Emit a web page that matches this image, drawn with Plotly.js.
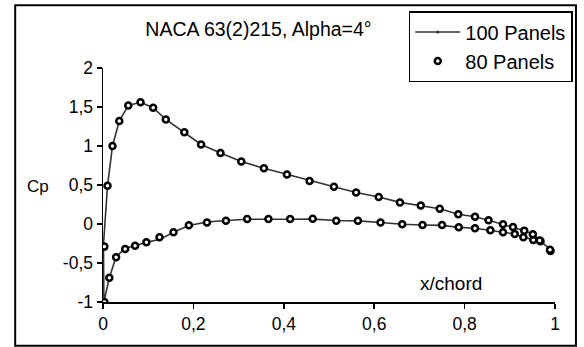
<!DOCTYPE html>
<html>
<head>
<meta charset="utf-8">
<script src="https://cdn.plot.ly/plotly-3.0.1.min.js"></script>
<style>
  html, body { margin: 0; padding: 0; background: #fff; }
  #chart { width: 584px; height: 347px; }
</style>
</head>
<body>
<div id="chart"></div>
<script>
// 100 panels: trailing edge -> lower surface -> leading edge -> upper surface -> trailing edge
const x100 = [0.992, 0.968, 0.952, 0.93, 0.911, 0.885, 0.857, 0.823, 0.787, 0.75, 0.707, 0.662, 0.614, 0.564, 0.516, 0.464, 0.414, 0.366, 0.319, 0.272, 0.23, 0.19, 0.156, 0.125, 0.096, 0.071, 0.049, 0.029, 0.014, 0.002,
              0.001, 0.01, 0.021, 0.036, 0.056, 0.083, 0.111, 0.139, 0.18, 0.217, 0.26, 0.306, 0.356, 0.407, 0.457, 0.511, 0.56, 0.61, 0.657, 0.703, 0.745, 0.786, 0.823, 0.853, 0.885, 0.907, 0.932, 0.951, 0.966, 0.99];
const cp100 = [-0.335, -0.22, -0.2, -0.17, -0.128, -0.106, -0.081, -0.055, -0.043, -0.018, -0.013, -0.004, 0.02, 0.04, 0.045, 0.062, 0.06, 0.06, 0.06, 0.045, 0.025, -0.02, -0.105, -0.2, -0.235, -0.28, -0.31, -0.42, -0.69, -1.0,
               -0.27, 0.49, 1.0, 1.32, 1.52, 1.56, 1.49, 1.34, 1.175, 1.02, 0.91, 0.8, 0.715, 0.635, 0.555, 0.477, 0.405, 0.345, 0.277, 0.238, 0.195, 0.124, 0.094, 0.047, -0.004, -0.038, -0.085, -0.132, -0.21, -0.33];

// 80 panels (markers only)
const x80 = [0.99, 0.968, 0.952, 0.93, 0.911, 0.885, 0.857, 0.823, 0.787, 0.75, 0.707, 0.662, 0.614, 0.564, 0.516, 0.464, 0.414, 0.366, 0.319, 0.272, 0.23, 0.19, 0.156, 0.125, 0.096, 0.071, 0.049, 0.029, 0.014, 0.003,
             0.003, 0.01, 0.021, 0.036, 0.056, 0.083, 0.111, 0.139, 0.18, 0.217, 0.26, 0.306, 0.356, 0.407, 0.457, 0.511, 0.56, 0.61, 0.657, 0.703, 0.745, 0.786, 0.823, 0.853, 0.885, 0.907, 0.932, 0.951, 0.966, 0.989];
const cp80 = [-0.345, -0.22, -0.204, -0.17, -0.128, -0.106, -0.081, -0.055, -0.043, -0.013, -0.013, -0.004, 0.02, 0.043, 0.043, 0.068, 0.064, 0.064, 0.064, 0.043, 0.02, -0.017, -0.106, -0.17, -0.235, -0.28, -0.32, -0.425, -0.69, -1.0,
              -0.29, 0.49, 1.0, 1.32, 1.52, 1.56, 1.49, 1.34, 1.175, 1.02, 0.91, 0.8, 0.715, 0.635, 0.55, 0.477, 0.405, 0.345, 0.277, 0.238, 0.195, 0.124, 0.094, 0.047, -0.004, -0.038, -0.085, -0.132, -0.21, -0.33];

const xTicks = [0, 0.2, 0.4, 0.6, 0.8, 1];
const xTickLabels = ['0', '0,2', '0,4', '0,6', '0,8', '1'];
const yTicks = [-1, -0.5, 0, 0.5, 1, 1.5, 2];
const yTickLabels = ['-1', '-0,5', '0', '0,5', '1', '1,5', '2'];

const FONT = 'Liberation Sans, Arial, sans-serif';

const traces = [
  {
    type: 'scatter', mode: 'lines+markers', name: '100 Panels',
    x: x100, y: cp100,
    line: { color: '#333333', width: 1.6 },
    marker: { color: '#333333', size: 3 }
  },
  {
    type: 'scatter', mode: 'markers', name: '80 Panels',
    x: x80, y: cp80,
    marker: { symbol: 'circle', size: 6, color: '#ffffff', line: { color: '#000000', width: 2.5 } }
  }
];

const layout = {
  width: 584, height: 347,
  margin: { l: 103, r: 28, t: 67, b: 45, pad: 0 },
  paper_bgcolor: '#ffffff', plot_bgcolor: '#ffffff',
  font: { family: FONT, size: 17, color: '#000000' },
  showlegend: true,
  title: {
    text: 'NACA 63(2)215, Alpha=4°',
    font: { family: FONT, size: 19.5, color: '#000000' },
    xref: 'paper', x: 0.344, xanchor: 'center',
    yref: 'container', y: 0.916, yanchor: 'middle'
  },
  xaxis: {
    range: [0, 1], tickvals: xTicks, ticktext: xTickLabels,
    showline: true, linecolor: '#000000', linewidth: 1.5,
    ticks: 'outside', ticklen: 5, tickwidth: 1.5, tickcolor: '#000000',
    showgrid: false, zeroline: false, mirror: false,
    tickfont: { family: FONT, size: 17.5, color: '#000000' }
  },
  yaxis: {
    range: [-1, 2], tickvals: yTicks, ticktext: yTickLabels,
    showline: true, linecolor: '#000000', linewidth: 1.5,
    ticks: 'outside', ticklen: 5, tickwidth: 1.5, tickcolor: '#000000',
    showgrid: false, zeroline: false, mirror: false,
    tickfont: { family: FONT, size: 17.5, color: '#000000' }
  },
  legend: {
    x: 0.675, y: (302 - 11) / 235, xanchor: 'left', yanchor: 'top',
    bgcolor: '#ffffff', bordercolor: '#000000', borderwidth: 1.5,
    font: { family: FONT, size: 20, color: '#000000' },
    itemwidth: 45, tracegroupgap: 0
  },
  annotations: [
    { text: 'Cp', xref: 'paper', yref: 'paper', x: (38 - 103) / 453, y: (302 - 186) / 235,
      xanchor: 'center', yanchor: 'middle', showarrow: false, font: { family: FONT, size: 17, color: '#000000' } },
    { text: 'x/chord', xref: 'paper', yref: 'paper', x: 0.77, y: 0.081,
      xanchor: 'center', yanchor: 'middle', showarrow: false, font: { family: FONT, size: 19, color: '#000000' } }
  ],
  shapes: [
    { type: 'rect', xref: 'paper', yref: 'paper', layer: 'below',
      x0: (15 - 103) / 453, x1: (577 - 103) / 453, y0: (302 - 346) / 235, y1: (302 - 4) / 235,
      line: { color: '#000000', width: 2 }, fillcolor: 'rgba(0,0,0,0)' }
  ]
};

Plotly.newPlot('chart', traces, layout, { displayModeBar: false, staticPlot: true });
</script>
</body>
</html>
